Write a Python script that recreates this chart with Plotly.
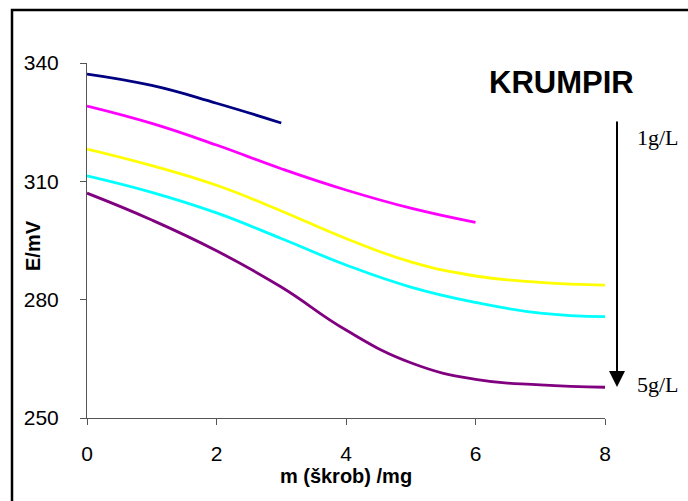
import plotly.graph_objects as go

x_vals = [0, 1, 2, 3, 4, 5, 6, 7, 8]
s1 = [337.2, 334.3, 329.8, 324.8]
s2 = [329.1, 324.7, 319.2, 313.2, 307.8, 303.2, 299.6]
s3 = [318.2, 314.0, 309.0, 302.5, 295.5, 289.6, 286.0, 284.4, 283.7]
s4 = [311.4, 307.2, 302.0, 295.5, 288.8, 283.2, 279.3, 276.6, 275.7]
s5 = [307.0, 300.2, 292.4, 283.2, 272.3, 264.0, 259.8, 258.4, 257.8]
series = [s1, s2, s3, s4, s5]
colors = ["#000080", "#FF00FF", "#FFFF00", "#00FFFF", "#800080"]
names = ["1g/L", "2g/L", "3g/L", "4g/L", "5g/L"]

fig = go.Figure()
for ys, c, n in zip(series, colors, names):
    fig.add_trace(go.Scatter(x=x_vals[:len(ys)], y=ys, mode="lines", name=n,
                             line=dict(color=c, width=2.8, shape="spline", smoothing=1.3)))

W, H = 688, 501
L, R, T, B = 87, 83, 63, 83
pw, ph = W - L - R, H - T - B

def px(xp):
    return (xp - L) / pw

def py(yp):
    return (H - B - yp) / ph

fig.update_layout(
    width=W, height=H,
    margin=dict(l=L, r=R, t=T, b=B),
    paper_bgcolor="white", plot_bgcolor="white",
    showlegend=False,
    font=dict(family="Liberation Sans, Arial", size=21, color="black"),
    xaxis=dict(range=[0, 8], tickvals=[0, 2, 4, 6, 8], showgrid=False, zeroline=False,
               showline=True, linecolor="#555", linewidth=1, ticks="outside", ticklen=6,
               tickcolor="#555", tickfont=dict(size=21), ticklabelstandoff=11,
               title=dict(text="<b>m (škrob) /mg</b>", font=dict(size=20), standoff=3)),
    yaxis=dict(range=[250, 340], tickvals=[250, 280, 310, 340], showgrid=False, zeroline=False,
               showline=True, linecolor="#555", linewidth=1, ticks="outside", ticklen=6,
               tickcolor="#555", tickfont=dict(size=21), ticklabelstandoff=17),
    shapes=[dict(type="rect", xref="paper", yref="paper",
                 x0=px(12), x1=px(720), y0=py(530), y1=py(10),
                 line=dict(color="black", width=2.5), layer="above")],
    annotations=[
        dict(text="<b>E/mV</b>", xref="paper", yref="paper", x=px(33), y=py(246),
             xanchor="center", yanchor="middle", textangle=-90, showarrow=False,
             font=dict(size=20, family="Liberation Sans, Arial")),
        dict(text="<b>KRUMPIR</b>", xref="paper", yref="paper", x=px(561), y=py(82),
             xanchor="center", yanchor="middle", showarrow=False,
             font=dict(size=31, family="Liberation Sans, Arial")),
        dict(text="", xref="paper", yref="paper", x=px(617), y=py(387),
             ax=0, ay=-267, showarrow=True, arrowhead=2, arrowsize=1.6,
             arrowwidth=2, arrowcolor="black"),
        dict(text="1g/L", xref="paper", yref="paper", x=px(635), y=py(137),
             xanchor="left", yanchor="middle", showarrow=False,
             font=dict(size=22, family="Liberation Serif, Times New Roman")),
        dict(text="5g/L", xref="paper", yref="paper", x=px(635), y=py(384),
             xanchor="left", yanchor="middle", showarrow=False,
             font=dict(size=22, family="Liberation Serif, Times New Roman")),
    ],
)

fig.write_html("out.html", config={"displayModeBar": False},
               post_script="document.body.style.margin='0';")
